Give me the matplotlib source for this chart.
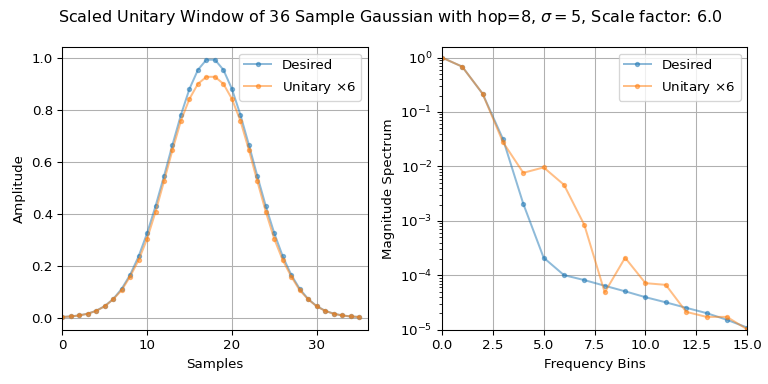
import matplotlib
matplotlib.use("Agg")
import matplotlib.pyplot as plt
import numpy as np

samples = list(range(36))
desired_win = [0.0022, 0.0043, 0.0082, 0.0149, 0.0261, 0.0439, 0.0710, 0.1103, 0.1645,
               0.2357, 0.3247, 0.4296, 0.5461, 0.6670, 0.7827, 0.8825, 0.9560, 0.9950,
               0.9950, 0.9560, 0.8825, 0.7827, 0.6670, 0.5461, 0.4296, 0.3247, 0.2357,
               0.1645, 0.1103, 0.0710, 0.0439, 0.0261, 0.0149, 0.0082, 0.0043, 0.0022]
unitary_win = [0.0021, 0.0042, 0.0080, 0.0146, 0.0256, 0.0432, 0.0700, 0.1050, 0.1580,
               0.2210, 0.3030, 0.4080, 0.5260, 0.6470, 0.7600, 0.8440, 0.9020, 0.9290,
               0.9290, 0.9020, 0.8440, 0.7600, 0.6470, 0.5260, 0.4080, 0.3030, 0.2210,
               0.1580, 0.1050, 0.0700, 0.0432, 0.0256, 0.0146, 0.0080, 0.0042, 0.0021]

bins = list(range(16))
desired_spec = [1.0, 0.68, 0.217, 0.032, 2.06e-3, 2.11e-4, 1.01e-4, 8.2e-5, 6.45e-5,
                5.1e-5, 3.98e-5, 3.2e-5, 2.54e-5, 2.03e-5, 1.53e-5, 1.10e-5]
unitary_spec = [1.0, 0.68, 0.217, 0.028, 7.64e-3, 9.6e-3, 4.6e-3, 8.4e-4, 4.86e-5,
                2.11e-4, 7.2e-5, 6.7e-5, 2.14e-5, 1.73e-5, 1.73e-5, 1.02e-5]

fig, (ax0, ax1) = plt.subplots(1, 2, figsize=(8, 4), dpi=96)
fig.subplots_adjust(left=0.081, right=0.973, top=0.878, bottom=0.141, wspace=0.243)
fig.suptitle(r"Scaled Unitary Window of 36 Sample Gaussian with hop=8, $\sigma=5$, Scale factor: 6.0",
             fontsize=12, y=0.98, x=0.508)

ax0.plot(samples, desired_win, '.-', alpha=0.5, label="Desired")
ax0.plot(samples, unitary_win, '.-', alpha=0.5, label="Unitary $\\times 6$")
ax0.set_xlim(0, 36)
ax0.set_xlabel("Samples")
ax0.set_ylabel("Amplitude")
ax0.grid(True)
ax0.legend(loc="upper right")

ax1.semilogy(bins, desired_spec, '.-', alpha=0.5, label="Desired")
ax1.semilogy(bins, unitary_spec, '.-', alpha=0.5, label="Unitary $\\times 6$")
ax1.set_xlim(0, 15)
ax1.set_ylim(1e-5, 1.57)
ax1.set_xlabel("Frequency Bins")
ax1.set_ylabel("Magnitude Spectrum")
ax1.grid(True)
ax1.legend(loc="upper right")

fig.savefig("out.png", dpi=96)
